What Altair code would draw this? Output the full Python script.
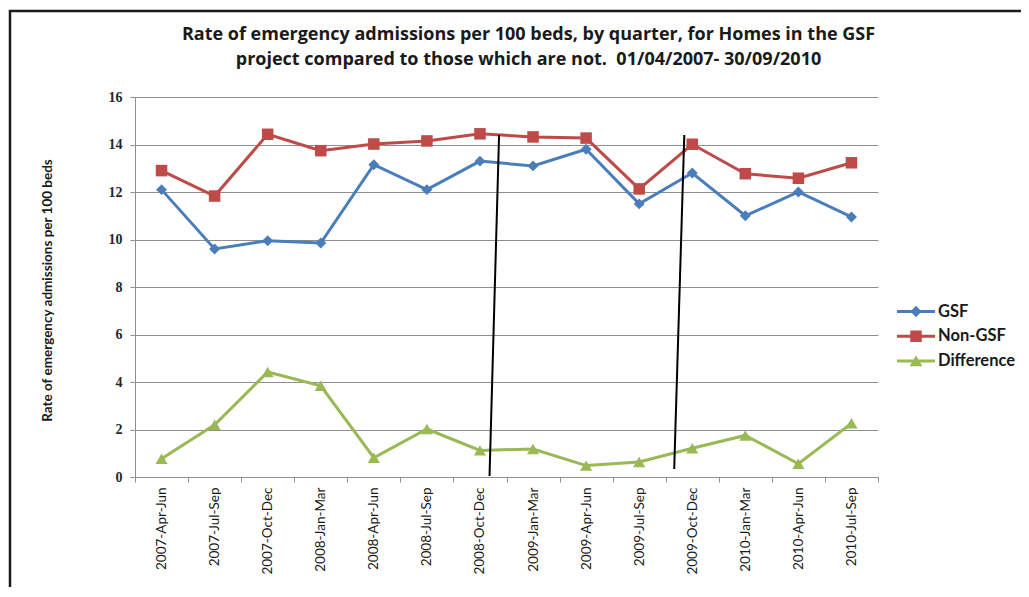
import json
import altair as alt
import pandas as pd

categories = ["2007-Apr-Jun", "2007-Jul-Sep", "2007-Oct-Dec", "2008-Jan-Mar",
              "2008-Apr-Jun", "2008-Jul-Sep", "2008-Oct-Dec", "2009-Jan-Mar",
              "2009-Apr-Jun", "2009-Jul-Sep", "2009-Oct-Dec", "2010-Jan-Mar",
              "2010-Apr-Jun", "2010-Jul-Sep"]
gsf = [12.1, 9.6, 9.95, 9.85, 13.15, 12.1, 13.3, 13.1, 13.8, 11.5, 12.8, 11.0, 12.0, 10.95]
non_gsf = [12.9, 11.83, 14.43, 13.74, 14.02, 14.15, 14.45, 14.32, 14.27, 12.13, 14.01, 12.77, 12.58, 13.23]
difference = [0.77, 2.2, 4.42, 3.84, 0.81, 2.02, 1.12, 1.18, 0.48, 0.63, 1.21, 1.75, 0.56, 2.26]

series_names = ["GSF", "Non-GSF", "Difference"]
series_colors = ["#4A7EBB", "#BE4B48", "#98B954"]
series_shapes = ["diamond", "square", "triangle-up"]
series_sizes = [120, 145, 170]

# hand-drawn divider lines (in data units: category index, rate)
divider_x_top = [6.36, 9.85]
divider_x_bottom = [6.18, 9.66]
divider_y_top = [14.4, 14.4]
divider_y_bottom = [0.04, 0.34]

y_ticks = list(range(0, 17, 2))
title_lines = ["Rate of emergency admissions per 100 beds, by quarter, for Homes in the GSF",
               "project compared to those which are not.\u00a0 01/04/2007- 30/09/2010"]
y_title = "Rate of emergency admissions per 100 beds"

rows = []
for name, vals in zip(series_names, [gsf, non_gsf, difference]):
    for i, v in enumerate(vals):
        rows.append({"idx": i, "category": categories[i], "series": name, "value": v})
df = pd.DataFrame(rows)

div_df = pd.DataFrame({"x1": divider_x_top, "x2": divider_x_bottom,
                       "y1": divider_y_top, "y2": divider_y_bottom})

legend_paths = [
    "M-2,-0.16H2V0.16H-2Z M0,-0.6L0.6,0L0,0.6L-0.6,0Z",
    "M-2,-0.16H2V0.16H-2Z M-0.6,-0.6H0.6V0.6H-0.6Z",
    "M-2,-0.16H2V0.16H-2Z M0,-0.6L0.68,0.55L-0.68,0.55Z",
]

GRAY = "#8f8f8f"
n = len(categories)
x_scale = alt.Scale(domain=[-0.5, n - 0.5], nice=False, zero=False)
y_scale = alt.Scale(domain=[0, 16], nice=False)

label_expr = f"{json.dumps(categories)}[round(datum.value + 0.5)] || ''"

x_axis = alt.Axis(values=[i - 0.5 for i in range(n + 1)], labelExpr=label_expr,
                  labelAngle=270, labelAlign="right", labelBaseline="middle",
                  labelOffset=26.5, labelPadding=5, labelOverlap=False, labelFlush=False,
                  labelBound=False, labelFont="Lato", labelFontSize=13.5, labelColor="#1a1a1a",
                  tickSize=5, tickColor=GRAY, domainColor=GRAY, grid=False, title=None)
y_axis = alt.Axis(values=y_ticks, grid=True, gridColor=GRAY, domainColor=GRAY,
                  tickColor=GRAY, tickSize=5, labelFont="Liberation Serif",
                  labelFontWeight="bold", labelFontSize=14, labelColor="#262626",
                  labelPadding=8, title=y_title, titleFont="Lato", titleFontSize=13.5,
                  titleFontWeight="bold", titleColor="#1a1a1a", titleAngle=270,
                  titleX=-88, titleY=193, titleAlign="center", titleBaseline="middle")

X = alt.X("idx:Q", scale=x_scale, axis=x_axis)
Y = alt.Y("value:Q", scale=y_scale, axis=y_axis)
color_scale = alt.Scale(domain=series_names, range=series_colors)

frame = alt.Chart(alt.Data(values=[{"f": 1}])).mark_rect(
    fillOpacity=0, stroke="#1a1a1a", strokeWidth=2.5
).encode(x=alt.value(-125), x2=alt.value(893), y=alt.value(-86), y2=alt.value(560))

lines = alt.Chart(df).mark_line(strokeWidth=3).encode(
    x=X, y=Y, color=alt.Color("series:N", scale=color_scale, legend=None)
)
points = alt.Chart(df).mark_point(filled=True, opacity=1).encode(
    x=X, y=Y,
    color=alt.Color("series:N", scale=color_scale, legend=None),
    shape=alt.Shape("series:N", scale=alt.Scale(domain=series_names, range=series_shapes), legend=None),
    size=alt.Size("series:N", scale=alt.Scale(domain=series_names, range=series_sizes), legend=None),
)
dividers = alt.Chart(div_df).mark_rule(color="black", strokeWidth=2).encode(
    x=alt.X("x1:Q", scale=x_scale, axis=x_axis), x2="x2:Q",
    y=alt.Y("y1:Q", scale=y_scale, axis=y_axis), y2="y2:Q"
)
legend_cfg = alt.Legend(title=None, orient="none", legendX=771.5, legendY=205,
                        symbolSize=361, symbolStrokeWidth=0, symbolOpacity=1,
                        labelFont="Lato", labelFontSize=16.5, labelFontWeight="bold",
                        labelColor="#1a1a1a", labelOffset=12.5, rowPadding=6.8, padding=0)
legend_layer = alt.Chart(df).transform_filter("false").mark_point(filled=True, opacity=1).encode(
    x=X, y=Y,
    color=alt.Color("series:N", scale=color_scale, legend=legend_cfg),
    shape=alt.Shape("series:N", scale=alt.Scale(domain=series_names, range=legend_paths), legend=legend_cfg),
)

chart = alt.layer(frame, lines, points, dividers, legend_layer).resolve_scale(
    color="independent", shape="independent"
).properties(
    width=743, height=380,
    padding={"left": 127, "top": 89, "right": 143, "bottom": 110},
    autosize=alt.AutoSizeParams(type="none"),
    title=alt.TitleParams(text=title_lines, font="Open Sans", fontSize=18, fontWeight="bold",
                          color="#1a1a1a", anchor="middle", dx=22, offset=-59, lineHeight=25),
    background="white",
).configure_view(stroke=None)

chart.save("out.html", embed_options={"renderer": "svg", "actions": False})
